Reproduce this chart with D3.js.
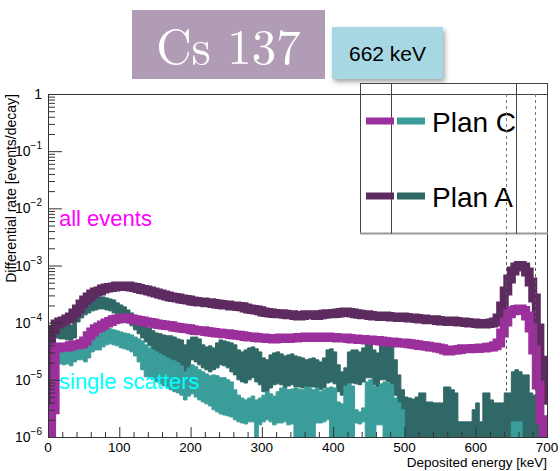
<!DOCTYPE html>
<html>
<head>
<meta charset="utf-8">
<script src="https://cdn.jsdelivr.net/npm/d3@7/dist/d3.min.js"></script>
<style>
  html, body { margin: 0; padding: 0; background: #fff; }
  svg { display: block; }
  text { font-family: "Liberation Sans", Arial, Helvetica, sans-serif; }
</style>
</head>
<body>
<svg id="chart" width="560" height="471"></svg>
<script>
// ---- Histogram settings (5 keV bins from 0 to 700 keV) ----
const binWidth = 5;
const energyDomain = [0, 700];
const rateDomain = [1e-6, 1];
const energyTicks = [0, 100, 200, 300, 400, 500, 600, 700];
const rateDecades = [1e-6, 1e-5, 1e-4, 1e-3, 1e-2, 1e-1, 1];
const rateTickLabels = ["10", "10", "10", "10", "10", "10", "1"];
const rateTickExponents = ["\u22126", "\u22125", "\u22124", "\u22123", "\u22122", "\u22121", ""];
const peakWindow = [642, 683];          // keV, dashed window around the 662 keV line

const seriesNames = ["Plan C", "Plan A"];
const allColors = ["#9b2f9c", "#5d2b60"];
const singleColors = ["#3a9d9a", "#2f6866"];

// Plan A, all events [events/decay per bin]
const planAAll = [
  2.0e-6, 7.5e-5, 9.5e-5, 1.03e-4, 1.07e-4, 1.16e-4, 1.26e-4, 1.48e-4, 1.74e-4, 2.13e-4,
  2.5e-4, 2.82e-4, 3.18e-4, 3.45e-4, 3.59e-4, 3.89e-4, 4.05e-4, 4.13e-4, 4.22e-4, 4.39e-4,
  4.4e-4, 4.3e-4, 4.4e-4, 4.22e-4, 4.13e-4, 3.97e-4, 3.82e-4, 3.74e-4, 3.59e-4, 3.45e-4,
  3.31e-4, 3.18e-4, 3.06e-4, 2.94e-4, 2.82e-4, 2.76e-4, 2.71e-4, 2.6e-4, 2.55e-4, 2.5e-4,
  2.4e-4, 2.35e-4, 2.31e-4, 2.31e-4, 2.22e-4, 2.22e-4, 2.17e-4, 2.13e-4, 2.08e-4, 2.04e-4,
  2.04e-4, 1.96e-4, 1.96e-4, 1.92e-4, 1.89e-4, 1.81e-4, 1.74e-4, 1.7e-4, 1.67e-4, 1.61e-4,
  1.54e-4, 1.51e-4, 1.48e-4, 1.45e-4, 1.43e-4, 1.43e-4, 1.4e-4, 1.37e-4, 1.37e-4, 1.34e-4,
  1.31e-4, 1.34e-4, 1.37e-4, 1.37e-4, 1.37e-4, 1.34e-4, 1.37e-4, 1.4e-4, 1.43e-4, 1.43e-4,
  1.45e-4, 1.48e-4, 1.51e-4, 1.54e-4, 1.51e-4, 1.48e-4, 1.43e-4, 1.4e-4, 1.37e-4, 1.37e-4,
  1.34e-4, 1.31e-4, 1.31e-4, 1.28e-4, 1.31e-4, 1.28e-4, 1.26e-4, 1.26e-4, 1.23e-4, 1.26e-4,
  1.23e-4, 1.21e-4, 1.21e-4, 1.18e-4, 1.16e-4, 1.16e-4, 1.13e-4, 1.12e-4, 1.12e-4, 1.09e-4,
  1.07e-4, 1.07e-4, 1.05e-4, 1.07e-4, 1.05e-4, 1.03e-4, 1.03e-4, 1.01e-4, 9.9e-5, 9.9e-5,
  9.7e-5, 9.5e-5, 9.5e-5, 9.7e-5, 9.9e-5, 1.03e-4, 1.21e-4, 1.96e-4, 3.59e-4, 5.8e-4,
  8.0e-4, 9.4e-4, 1.0e-3, 9.4e-4, 7.7e-4, 5.16e-4, 2.71e-4, 8.1e-5, 2.2e-5, 4.4e-6
];

// Plan C, all events
const planCAll = [
  0, 3.0e-6, 3.62e-5, 3.77e-5, 3.7e-5, 3.77e-5, 3.93e-5, 4.09e-5, 4.09e-5, 4.26e-5,
  4.8e-5, 5.9e-5, 6.9e-5, 7.8e-5, 8.4e-5, 9.1e-5, 9.9e-5, 1.05e-4, 1.12e-4, 1.16e-4,
  1.18e-4, 1.21e-4, 1.18e-4, 1.16e-4, 1.12e-4, 1.09e-4, 1.07e-4, 1.03e-4, 1.01e-4, 9.9e-5,
  9.5e-5, 9.3e-5, 9.1e-5, 8.9e-5, 8.8e-5, 8.4e-5, 8.2e-5, 8.1e-5, 7.9e-5, 7.8e-5,
  7.5e-5, 7.3e-5, 7.2e-5, 7.2e-5, 7.0e-5, 6.9e-5, 6.7e-5, 6.6e-5, 6.5e-5, 6.4e-5,
  6.4e-5, 6.2e-5, 6.1e-5, 6.0e-5, 5.9e-5, 5.7e-5, 5.6e-5, 5.6e-5, 5.5e-5, 5.4e-5,
  5.4e-5, 5.3e-5, 5.3e-5, 5.2e-5, 5.3e-5, 5.4e-5, 5.4e-5, 5.3e-5, 5.4e-5, 5.4e-5,
  5.5e-5, 5.5e-5, 5.6e-5, 5.5e-5, 5.6e-5, 5.6e-5, 5.5e-5, 5.6e-5, 5.6e-5, 5.5e-5,
  5.5e-5, 5.4e-5, 5.4e-5, 5.4e-5, 5.3e-5, 5.2e-5, 5.2e-5, 5.1e-5, 5.1e-5, 5.0e-5,
  5.0e-5, 4.9e-5, 4.9e-5, 4.8e-5, 4.7e-5, 4.6e-5, 4.6e-5, 4.5e-5, 4.4e-5, 4.4e-5,
  4.35e-5, 4.26e-5, 4.2e-5, 4.09e-5, 4.0e-5, 3.93e-5, 3.85e-5, 3.77e-5, 3.7e-5, 3.62e-5,
  3.48e-5, 3.34e-5, 3.21e-5, 3.28e-5, 3.34e-5, 3.4e-5, 3.48e-5, 3.48e-5, 3.48e-5, 3.55e-5,
  3.55e-5, 3.62e-5, 3.62e-5, 3.7e-5, 3.77e-5, 3.93e-5, 4.43e-5, 6.6e-5, 1.03e-4, 1.43e-4,
  1.61e-4, 1.7e-4, 1.74e-4, 1.64e-4, 1.31e-4, 8.1e-5, 3.34e-5, 8.1e-6, 2.0e-6, 0
];

// Plan A, single scatters: upper and lower envelope of the fine-binned spectrum
const planASingleHi = [
  4.09e-5, 9.1e-5, 9.1e-5, 8.8e-5, 9.1e-5, 8.8e-5, 9.1e-5, 1.21e-4, 1.81e-4, 2.04e-4,
  2.31e-4, 2.5e-4, 2.6e-4, 2.71e-4, 2.82e-4, 2.82e-4, 2.71e-4, 2.6e-4, 2.5e-4, 2.22e-4,
  2.04e-4, 1.89e-4, 1.67e-4, 1.48e-4, 1.31e-4, 1.16e-4, 1.03e-4, 9.1e-5, 8.1e-5, 7.2e-5,
  6.6e-5, 6.4e-5, 6.1e-5, 5.9e-5, 5.9e-5, 5.6e-5, 5.2e-5, 5.0e-5, 4.09e-5, 5.0e-5,
  5.6e-5, 5.6e-5, 5.2e-5, 4.09e-5, 3.77e-5, 3.93e-5, 3.62e-5, 4.43e-5, 5.0e-5, 4.8e-5,
  4.61e-5, 4.43e-5, 4.09e-5, 3.34e-5, 3.08e-5, 3.34e-5, 3.62e-5, 3.77e-5, 3.48e-5, 3.08e-5,
  2.42e-5, 2.24e-5, 2.73e-5, 2.96e-5, 3.08e-5, 2.84e-5, 2.62e-5, 2.73e-5, 2.84e-5, 2.62e-5,
  2.52e-5, 2.42e-5, 2.24e-5, 2.33e-5, 2.42e-5, 2.24e-5, 2.06e-5, 2.42e-5, 3.34e-5, 3.48e-5,
  3.08e-5, 1.83e-5, 1.38e-5, 1.62e-5, 3.08e-5, 3.34e-5, 3.34e-5, 3.08e-5, 3.62e-5, 4.8e-5,
  5.0e-5, 3.34e-5, 2.96e-5, 4.26e-5, 4.61e-5, 4.43e-5, 3.77e-5, 2.24e-5, 1.22e-5, 6.7e-6,
  5.0e-6, 4.8e-6, 4.6e-6, 5.0e-6, 5.9e-6, 5.9e-6, 4.1e-6, 4.1e-6, 3.95e-6, 3.95e-6,
  3.95e-6, 7.5e-6, 7.5e-6, 6.7e-6, 5.9e-6, 1.84e-6, 1.84e-6, 1.84e-6, 1.84e-6, 3.0e-6,
  3.95e-6, 1.84e-6, 5.9e-6, 5.9e-6, 4.45e-6, 3.95e-6, 3.95e-6, 3.95e-6, 5.9e-6, 5.9e-6,
  1.38e-5, 1.5e-5, 1.38e-5, 1.22e-5, 1.22e-5, 5.9e-6, 5.4e-6, 3.36e-6, 0, 0
];
const planASingleLo = [
  0, 5.0e-5, 5.4e-5, 5.2e-5, 5.2e-5, 5.0e-5, 5.0e-5, 5.4e-5, 1.03e-4, 1.21e-4,
  1.37e-4, 1.48e-4, 1.61e-4, 1.67e-4, 1.74e-4, 1.74e-4, 1.67e-4, 1.61e-4, 1.48e-4, 1.31e-4,
  1.21e-4, 1.12e-4, 9.9e-5, 8.8e-5, 7.5e-5, 6.4e-5, 5.4e-5, 4.61e-5, 3.93e-5, 3.34e-5,
  2.73e-5, 2.42e-5, 2.06e-5, 1.83e-5, 1.76e-5, 1.62e-5, 1.62e-5, 1.38e-5, 1.09e-5, 1.5e-5,
  2.24e-5, 2.06e-5, 1.83e-5, 1.62e-5, 1.5e-5, 1.38e-5, 1.5e-5, 1.62e-5, 1.83e-5, 1.76e-5,
  1.62e-5, 1.38e-5, 1.22e-5, 1.0e-5, 9.2e-6, 8.8e-6, 1.0e-5, 1.09e-5, 9.2e-6, 8.2e-6,
  6.2e-6, 5.9e-6, 7.2e-6, 8.2e-6, 8.5e-6, 8.2e-6, 7.2e-6, 7.8e-6, 8.2e-6, 7.5e-6,
  7.5e-6, 7.2e-6, 7.2e-6, 7.5e-6, 7.5e-6, 7.2e-6, 6.7e-6, 7.2e-6, 8.8e-6, 9.2e-6,
  8.5e-6, 6.2e-6, 5.4e-6, 5.9e-6, 8.2e-6, 8.8e-6, 8.5e-6, 8.2e-6, 9.2e-6, 1.09e-5,
  1.09e-5, 8.2e-6, 7.5e-6, 1.0e-5, 1.0e-5, 9.2e-6, 7.8e-6, 5.4e-6, 0, 0,
  0, 0, 0, 0, 0, 0, 0, 0, 0, 0,
  0, 0, 0, 0, 0, 0, 0, 0, 0, 0,
  0, 0, 0, 0, 0, 0, 0, 0, 0, 0,
  0, 0, 0, 0, 0, 0, 0, 0, 0, 0
];

// Plan C, single scatters: upper and lower envelope
const planCSingleHi = [
  0, 3.08e-5, 3.08e-5, 3.34e-5, 3.21e-5, 3.34e-5, 3.34e-5, 4.61e-5, 5.0e-5, 5.2e-5,
  5.0e-5, 5.2e-5, 5.9e-5, 5.9e-5, 6.4e-5, 7.5e-5, 7.8e-5, 7.8e-5, 7.5e-5, 7.2e-5,
  6.9e-5, 6.6e-5, 6.4e-5, 6.1e-5, 5.6e-5, 5.2e-5, 4.8e-5, 4.09e-5, 3.62e-5, 3.34e-5,
  3.08e-5, 2.84e-5, 2.62e-5, 2.42e-5, 2.24e-5, 2.15e-5, 1.98e-5, 1.76e-5, 1.38e-5, 1.62e-5,
  1.83e-5, 1.69e-5, 1.5e-5, 1.38e-5, 1.27e-5, 1.18e-5, 1.22e-5, 1.18e-5, 1.09e-5, 1.09e-5,
  1.0e-5, 9.2e-6, 6.7e-6, 5.4e-6, 4.8e-6, 4.45e-6, 4.8e-6, 5.2e-6, 4.45e-6, 4.8e-6,
  5.4e-6, 6.2e-6, 5.7e-6, 5.2e-6, 6.2e-6, 7.2e-6, 7.2e-6, 6.7e-6, 6.9e-6, 7.2e-6,
  6.9e-6, 6.7e-6, 7.5e-6, 7.2e-6, 6.7e-6, 7.2e-6, 6.2e-6, 6.7e-6, 7.2e-6, 7.5e-6,
  7.2e-6, 4.1e-6, 3.8e-6, 7.8e-6, 8.5e-6, 7.8e-6, 3.0e-6, 2.75e-6, 3.23e-6, 9.2e-6,
  1.0e-5, 7.8e-6, 7.2e-6, 8.5e-6, 9.2e-6, 8.8e-6, 8.2e-6, 4.8e-6, 3.95e-6, 3.0e-6,
  0, 0, 0, 0, 0, 0, 0, 0, 0, 0,
  0, 0, 0, 0, 0, 0, 0, 0, 0, 0,
  0, 0, 0, 0, 0, 0, 0, 0, 0, 0,
  1.84e-6, 1.84e-6, 1.84e-6, 0, 0, 0, 0, 0, 0, 0
];
const planCSingleLo = [
  0, 0, 1.83e-5, 1.9e-5, 1.83e-5, 1.9e-5, 1.76e-5, 2.06e-5, 2.24e-5, 2.24e-5,
  2.06e-5, 2.42e-5, 3.08e-5, 3.34e-5, 3.34e-5, 3.77e-5, 4.09e-5, 4.26e-5, 4.09e-5, 3.93e-5,
  3.62e-5, 3.48e-5, 3.34e-5, 3.08e-5, 2.62e-5, 2.06e-5, 1.5e-5, 1.13e-5, 1.09e-5, 1.0e-5,
  9.2e-6, 8.5e-6, 7.8e-6, 7.2e-6, 6.7e-6, 6.2e-6, 5.9e-6, 5.4e-6, 4.45e-6, 5.2e-6,
  5.7e-6, 5.0e-6, 4.45e-6, 4.1e-6, 3.8e-6, 3.5e-6, 3.0e-6, 2.75e-6, 2.53e-6, 2.43e-6,
  2.34e-6, 2.24e-6, 2.0e-6, 1.84e-6, 1.76e-6, 1.69e-6, 1.84e-6, 1.84e-6, 0, 1.63e-6,
  1.84e-6, 2.0e-6, 1.84e-6, 1.63e-6, 1.76e-6, 1.76e-6, 1.84e-6, 1.63e-6, 1.69e-6, 0,
  0, 0, 0, 0, 0, 1.76e-6, 1.76e-6, 1.84e-6, 2.0e-6, 0,
  0, 0, 0, 0, 0, 0, 1.76e-6, 1.69e-6, 1.84e-6, 0,
  0, 0, 1.63e-6, 1.63e-6, 0, 0, 0, 0, 0, 0,
  0, 0, 0, 0, 0, 0, 0, 0, 0, 0,
  0, 0, 0, 0, 0, 0, 0, 0, 0, 0,
  0, 0, 0, 0, 0, 0, 0, 0, 0, 0,
  0, 0, 0, 0, 0, 0, 0, 0, 0, 0
];

// ---- Layout ----
const svg = d3.select("#chart");
const plot = { left: 48, right: 547, top: 94, bottom: 437 };

const x = d3.scaleLinear().domain(energyDomain).range([plot.left, plot.right]);
const y = d3.scaleLog().domain(rateDomain).range([plot.bottom, plot.top]);
// empty bins fall below the visible range and are clipped away
const yv = v => (v > 0 ? y(v) : plot.bottom + 30);

// Title boxes
svg.append("rect").attr("x", 132).attr("y", 10).attr("width", 193).attr("height", 69)
  .attr("fill", "#b09cb5");
svg.append("text").attr("x", 228.5).attr("y", 64).attr("text-anchor", "middle")
  .style("font-family", "'Latin Modern Roman', 'CMU Serif', 'Liberation Serif', 'DejaVu Serif', serif")
  .attr("font-size", 49).attr("fill", "#fff").text("Cs 137");

const defs = svg.append("defs");
const shadow = defs.append("filter").attr("id", "boxShadow")
  .attr("x", "-20%").attr("y", "-20%").attr("width", "150%").attr("height", "160%");
shadow.append("feDropShadow").attr("dx", 2).attr("dy", 3).attr("stdDeviation", 2.5)
  .attr("flood-color", "#000").attr("flood-opacity", 0.35);
svg.append("rect").attr("x", 332).attr("y", 27).attr("width", 111).attr("height", 52)
  .attr("fill", "#a6d7e3").attr("filter", "url(#boxShadow)");
svg.append("text").attr("x", 387.5).attr("y", 61).attr("text-anchor", "middle")
  .attr("font-size", 21).attr("fill", "#000").text("662 keV");

// Clip region for the spectra
defs.append("clipPath").attr("id", "plotClip").append("rect")
  .attr("x", plot.left).attr("y", plot.top)
  .attr("width", plot.right - plot.left).attr("height", plot.bottom - plot.top);

// Bin edges -> step outline points
function stepPoints(hi, lo) {
  const pts = [];
  hi.forEach((v, i) => {
    const e0 = energyDomain[0] + i * binWidth, e1 = e0 + binWidth;
    const l = lo ? lo[i] : v;
    pts.push([e0, v, l], [e1, v, l]);
  });
  return pts;
}

const g = svg.append("g").attr("clip-path", "url(#plotClip)");

const bandArea = d3.area()
  .x(d => x(d[0])).y0(d => yv(d[2])).y1(d => yv(d[1]));
const stepLine = d3.line().x(d => x(d[0])).y(d => yv(d[1]));

// single scatters (spread between envelopes)
[[planASingleHi, planASingleLo, singleColors[1]],
 [planCSingleHi, planCSingleLo, singleColors[0]]].forEach(([hi, lo, c]) => {
  g.append("path").datum(stepPoints(hi, lo))
    .attr("d", bandArea).attr("fill", c)
    .attr("stroke", c).attr("stroke-width", 1);
});

// all events (thick histogram lines)
[[planAAll, allColors[1]], [planCAll, allColors[0]]].forEach(([vals, c]) => {
  g.append("path").datum(stepPoints(vals))
    .attr("d", stepLine).attr("fill", "none")
    .attr("stroke", c).attr("stroke-width", 9)
    .attr("stroke-linejoin", "miter").attr("stroke-linecap", "butt");
});

// Dashed energy window
svg.append("g").selectAll("line").data(peakWindow).join("line")
  .attr("x1", d => Math.round(x(d)) + 0.5).attr("x2", d => Math.round(x(d)) + 0.5)
  .attr("y1", plot.top).attr("y2", plot.bottom)
  .attr("stroke", "#555").attr("stroke-width", 1).attr("stroke-dasharray", "3,3");

// ---- Axes ----
const axisColor = "#333";
const minorEnergy = d3.range(0, 701, 20).filter(v => v % 100 !== 0);
const xAxis = svg.append("g").attr("transform", `translate(0,${plot.bottom})`);
xAxis.call(d3.axisBottom(x).tickValues(energyTicks).tickSize(-10).tickFormat(""));
xAxis.append("g").call(d3.axisBottom(x).tickValues(minorEnergy).tickSize(-5).tickFormat(""));
xAxis.selectAll(".domain").remove();
xAxis.selectAll("line").attr("stroke", axisColor);

const minorRates = [];
rateDecades.slice(0, -1).forEach(d => { for (let k = 2; k <= 9; k++) minorRates.push(d * k); });
const yAxis = svg.append("g").attr("transform", `translate(${plot.left},0)`);
yAxis.call(d3.axisLeft(y).tickValues(rateDecades).tickSize(-14).tickFormat(""));
yAxis.append("g").call(d3.axisLeft(y).tickValues(minorRates).tickSize(-7).tickFormat(""));
yAxis.selectAll(".domain").remove();
yAxis.selectAll("line").attr("stroke", axisColor);

// Frame
svg.append("rect").attr("x", plot.left + 0.5).attr("y", plot.top + 0.5)
  .attr("width", plot.right - plot.left).attr("height", plot.bottom - plot.top)
  .attr("fill", "none").attr("stroke", axisColor).attr("stroke-width", 1);

// Tick labels
svg.append("g").selectAll("text").data(energyTicks).join("text")
  .attr("x", d => x(d)).attr("y", plot.bottom + 15).attr("text-anchor", "middle")
  .attr("font-size", 13.5).attr("fill", "#000").text(d => d);

const yLab = svg.append("g").selectAll("text").data(rateDecades).join("text")
  .attr("x", 42).attr("y", d => y(d) + 5).attr("text-anchor", "end")
  .attr("font-size", 14).attr("fill", "#000");
yLab.append("tspan").text((d, i) => rateTickLabels[i]);
yLab.append("tspan").attr("dy", -7).attr("font-size", 10)
  .text((d, i) => rateTickExponents[i]);

// Axis titles
svg.append("text").attr("x", plot.right).attr("y", 467).attr("text-anchor", "end")
  .attr("font-size", 13.5).attr("fill", "#000").text("Deposited energy [keV]");
svg.append("text").attr("transform", `translate(16,${plot.top}) rotate(-90)`)
  .attr("text-anchor", "end").attr("font-size", 14).attr("fill", "#000")
  .text("Differential rate [events/decay]");

// In-plot annotations
svg.append("text").attr("x", 59).attr("y", 226).attr("font-size", 22)
  .attr("fill", "#ff00ff").text("all events");
svg.append("text").attr("x", 59).attr("y", 389).attr("font-size", 22)
  .attr("fill", "#00ffff").text("single scatters");

// ---- Legend ----
const legend = svg.append("g");
legend.append("rect").attr("x", 360.5).attr("y", 83.5).attr("width", 187).attr("height", 150)
  .attr("fill", "#fff").attr("stroke", "#444").attr("stroke-width", 1);
legend.append("line").attr("x1", 360).attr("x2", 548).attr("y1", 233.5).attr("y2", 233.5)
  .attr("stroke", "#999").attr("stroke-width", 2);
[391.5, 516.5].forEach(lx => legend.append("line")
  .attr("x1", lx).attr("x2", lx).attr("y1", 83.5).attr("y2", 233.5)
  .attr("stroke", "#444").attr("stroke-width", 1));
legend.append("line").attr("x1", 360).attr("x2", 548).attr("y1", plot.top + 0.5).attr("y2", plot.top + 0.5)
  .attr("stroke", "#444").attr("stroke-width", 1);
// dashed window continues inside the legend
svg.append("g").selectAll("line").data(peakWindow).join("line")
  .attr("x1", d => Math.round(x(d)) + 0.5).attr("x2", d => Math.round(x(d)) + 0.5)
  .attr("y1", plot.top).attr("y2", 233)
  .attr("stroke", "#777").attr("stroke-width", 1).attr("stroke-dasharray", "3,3");

const legendRows = [
  { name: seriesNames[0], cy: 121, colors: [allColors[0], singleColors[0]] },
  { name: seriesNames[1], cy: 196, colors: [allColors[1], singleColors[1]] }
];
legendRows.forEach(r => {
  legend.append("rect").attr("x", 366).attr("y", r.cy - 3.5).attr("width", 28).attr("height", 7)
    .attr("fill", r.colors[0]);
  legend.append("rect").attr("x", 397).attr("y", r.cy - 3.5).attr("width", 28).attr("height", 7)
    .attr("fill", r.colors[1]);
  legend.append("text").attr("x", 432).attr("y", r.cy + 11).attr("font-size", 28)
    .attr("fill", "#000").text(r.name);
});
</script>
</body>
</html>
